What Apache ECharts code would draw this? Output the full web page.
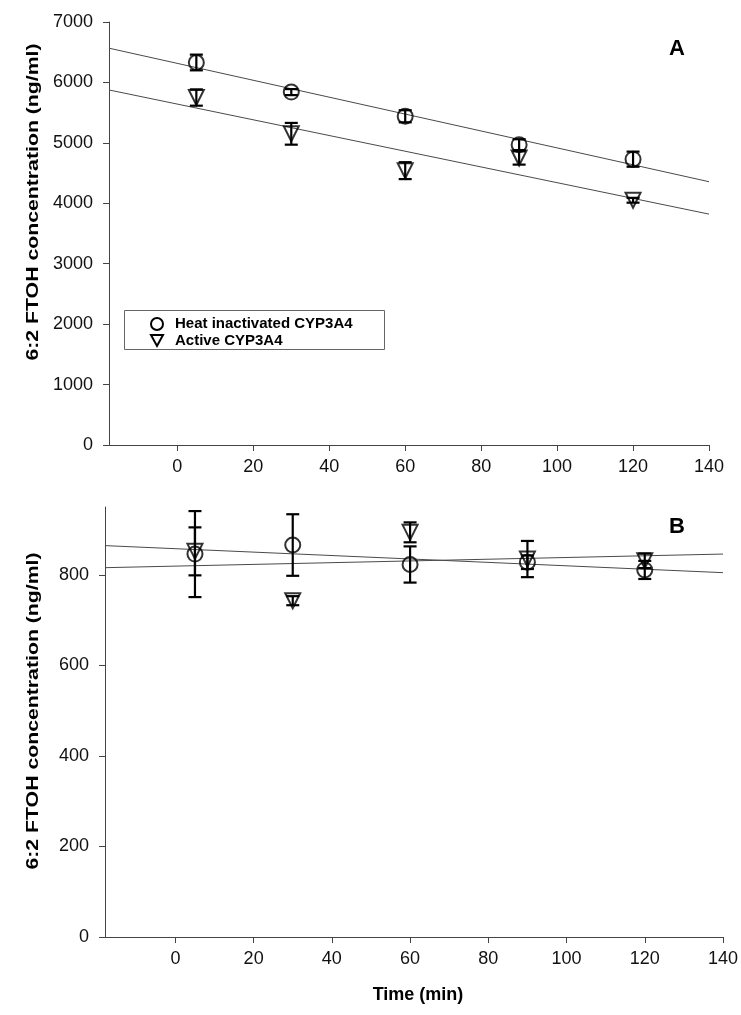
<!DOCTYPE html>
<html><head><meta charset="utf-8">
<script src="https://cdn.jsdelivr.net/npm/echarts@6/dist/echarts.min.js"></script>
<style>html,body{margin:0;padding:0;background:#fff}#c{width:741px;height:1015px}</style>
</head><body><div id="c"></div>
<script>
// ---- data ----
const times = [5, 30, 60, 90, 120];
const xTicks = [0, 20, 40, 60, 80, 100, 120, 140];
const aYTicks = [0, 1000, 2000, 3000, 4000, 5000, 6000, 7000];
const bYTicks = [0, 200, 400, 600, 800];
const aHeat = [6330, 5840, 5440, 4970, 4730];
const aHeatErr = [130, 50, 100, 90, 125];
const aActive = [5750, 5150, 4540, 4750, 4050];
const aActiveErr = [135, 180, 140, 110, 40];
const bHeat = [846, 866, 823, 828, 811];
const bHeatErr = [95, 68, 40, 15, 20];
const bActive = [852, 743, 894, 835, 831];
const bActiveErr = [53, 10, 22, 40, 16];
const legendNames = ['Heat inactivated CYP3A4', 'Active CYP3A4'];
const yTitle = '6:2 FTOH concentration (ng/ml)';
const xTitle = 'Time (min)';

const X_MIN = -18, X_MAX = 140;
const FONT = 'Liberation Sans, Arial, Helvetica, sans-serif';

function fit(xs, ys) {
  const n = xs.length;
  const mx = xs.reduce((a, b) => a + b, 0) / n;
  const my = ys.reduce((a, b) => a + b, 0) / n;
  let sxy = 0, sxx = 0;
  for (let i = 0; i < n; i++) { sxy += (xs[i] - mx) * (ys[i] - my); sxx += (xs[i] - mx) ** 2; }
  const b = sxy / sxx, a = my - b * mx;
  return [[X_MIN, a + b * X_MIN], [X_MAX, a + b * X_MAX]];
}
function pts(ys) { return times.map((t, i) => [t, ys[i]]); }
function errPts(ys, es) { return times.map((t, i) => [t, ys[i], es[i]]); }

function errSeries(ys, es, idx) {
  return {
    type: 'custom', xAxisIndex: idx, yAxisIndex: idx, z: 3,
    data: errPts(ys, es),
    renderItem: function (params, api) {
      const x = api.value(0), y = api.value(1), e = api.value(2);
      const top = api.coord([x, y + e]);
      const bot = api.coord([x, y - e]);
      const w = 6.5;
      const st = { stroke: '#000', lineWidth: 2.2 };
      return {
        type: 'group', children: [
          { type: 'line', shape: { x1: top[0], y1: top[1], x2: bot[0], y2: bot[1] }, style: st },
          { type: 'line', shape: { x1: top[0] - w, y1: top[1], x2: top[0] + w, y2: top[1] }, style: st },
          { type: 'line', shape: { x1: bot[0] - w, y1: bot[1], x2: bot[0] + w, y2: bot[1] }, style: st }
        ]
      };
    }
  };
}
function markerSeries(ys, idx, tri) {
  return {
    type: 'scatter', xAxisIndex: idx, yAxisIndex: idx, z: 4,
    data: pts(ys),
    symbol: tri ? 'triangle' : 'circle',
    symbolRotate: tri ? 180 : 0,
    symbolSize: 15,
    itemStyle: { color: 'rgba(0,0,0,0)', borderColor: '#000', borderWidth: 2 },
    emphasis: { disabled: true }
  };
}
function fitSeries(ys, idx) {
  return {
    type: 'line', xAxisIndex: idx, yAxisIndex: idx, z: 2,
    data: fit(times, ys), showSymbol: false, silent: true,
    lineStyle: { color: '#4a4a4a', width: 1 }
  };
}
const plain = v => String(v);
function xAxisCfg(idx) {
  return {
    type: 'value', gridIndex: idx, min: X_MIN, max: X_MAX,
    axisLine: { show: true, onZero: false, lineStyle: { color: '#444', width: 1 } },
    axisTick: { show: true, length: 6, customValues: xTicks, lineStyle: { color: '#444' } },
    axisLabel: { customValues: xTicks, formatter: plain, color: '#111', fontSize: 18, fontFamily: FONT, margin: 13 },
    splitLine: { show: false }
  };
}
function yAxisCfg(idx, max, ticks) {
  return {
    type: 'value', gridIndex: idx, min: 0, max: max,
    axisLine: { show: true, onZero: false, lineStyle: { color: '#444', width: 1 } },
    axisTick: { show: true, length: 6, customValues: ticks, lineStyle: { color: '#444' } },
    axisLabel: { customValues: ticks, formatter: plain, color: '#111', fontSize: 18, fontFamily: FONT, margin: 16 },
    splitLine: { show: false }
  };
}

const chart = echarts.init(document.getElementById('c'));
chart.setOption({
  backgroundColor: '#fff',
  animation: false,
  grid: [
    { left: 109, top: 22, width: 600, height: 423 },
    { left: 105, top: 507, width: 623, height: 430 }
  ],
  xAxis: [xAxisCfg(0), xAxisCfg(1)],
  yAxis: [yAxisCfg(0, 7000, aYTicks), yAxisCfg(1, 950, bYTicks)],
  series: [
    fitSeries(aHeat, 0), fitSeries(aActive, 0),
    errSeries(aHeat, aHeatErr, 0), errSeries(aActive, aActiveErr, 0),
    markerSeries(aHeat, 0, false), markerSeries(aActive, 0, true),
    fitSeries(bHeat, 1), fitSeries(bActive, 1),
    errSeries(bHeat, bHeatErr, 1), errSeries(bActive, bActiveErr, 1),
    markerSeries(bHeat, 1, false), markerSeries(bActive, 1, true)
  ],
  graphic: [
    { type: 'text', x: 677, y: 49, style: { text: 'A', font: 'bold 22px ' + FONT, fill: '#000', align: 'center', verticalAlign: 'middle' } },
    { type: 'text', x: 677, y: 527, style: { text: 'B', font: 'bold 22px ' + FONT, fill: '#000', align: 'center', verticalAlign: 'middle' } },
    { type: 'text', x: 33, y: 202, rotation: Math.PI / 2, scaleX: 1.25, style: { text: yTitle, font: 'bold 17px ' + FONT, fill: '#000', align: 'center', verticalAlign: 'middle' } },
    { type: 'text', x: 33, y: 711, rotation: Math.PI / 2, scaleX: 1.25, style: { text: yTitle, font: 'bold 17px ' + FONT, fill: '#000', align: 'center', verticalAlign: 'middle' } },
    { type: 'text', x: 418, y: 995, style: { text: xTitle, font: 'bold 18px ' + FONT, fill: '#000', align: 'center', verticalAlign: 'middle' } },
    { type: 'rect', shape: { x: 124.5, y: 310.5, width: 260, height: 39 }, style: { fill: '#fff', stroke: '#666', lineWidth: 1 } },
    { type: 'circle', shape: { cx: 157, cy: 324, r: 6 }, style: { fill: 'none', stroke: '#000', lineWidth: 2 } },
    { type: 'polygon', shape: { points: [[151, 335], [163, 335], [157, 346]] }, style: { fill: 'none', stroke: '#000', lineWidth: 2 } },
    { type: 'text', x: 175, y: 324, style: { text: legendNames[0], font: 'bold 15px ' + FONT, fill: '#000', verticalAlign: 'middle' } },
    { type: 'text', x: 175, y: 341, style: { text: legendNames[1], font: 'bold 15px ' + FONT, fill: '#000', verticalAlign: 'middle' } }
  ]
});
</script>
</body></html>
